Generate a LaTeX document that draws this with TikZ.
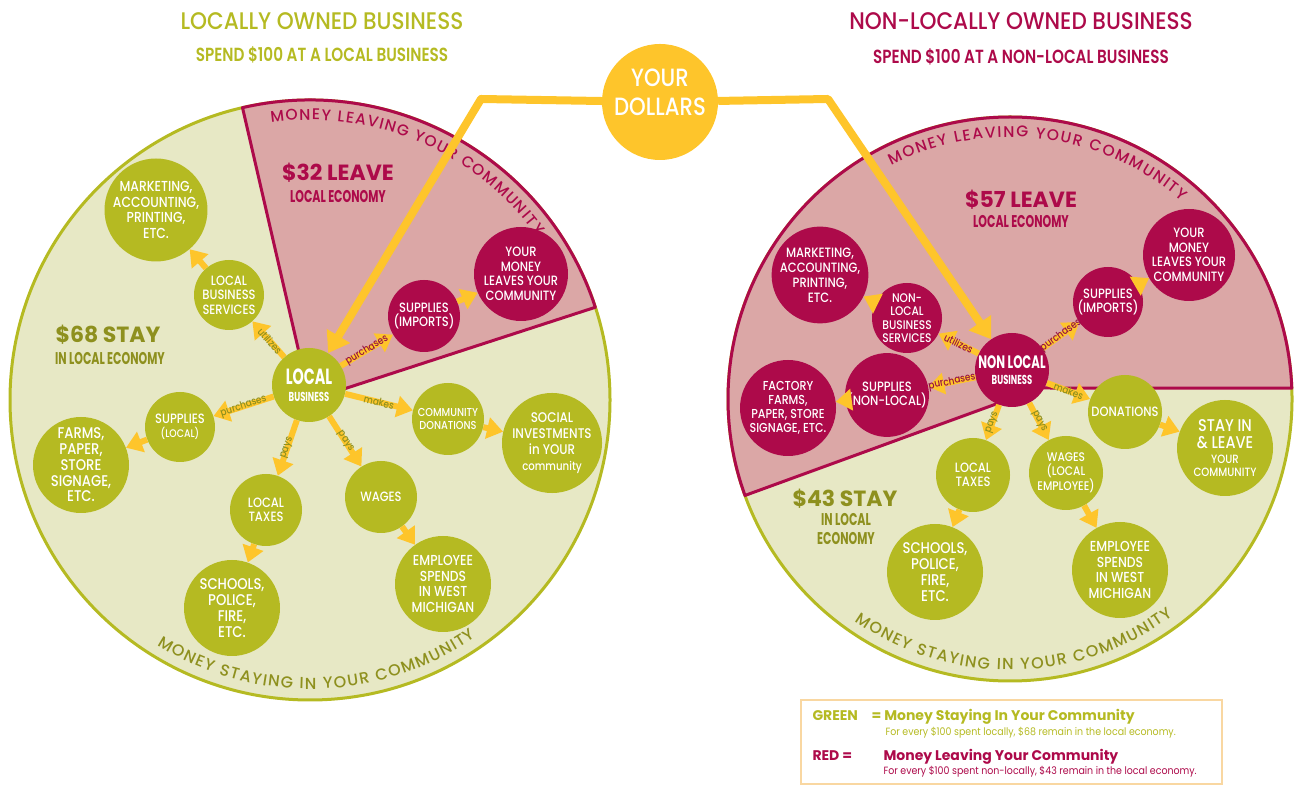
\documentclass[tikz,border=0pt]{standalone}
\usepackage{fontspec}
\setmainfont{Poppins}
\IfFontExistsTF{Poppins Medium}{%
  \newfontfamily\ballfont[FakeStretch=0.85]{Poppins Medium}%
  \newfontfamily\headfont[FakeStretch=0.9]{Poppins Medium}%
  \newfontfamily\rimfont{Poppins Medium}%
}{%
  \newfontfamily\ballfont[FakeStretch=0.85]{Poppins}%
  \newfontfamily\headfont[FakeStretch=0.9]{Poppins}%
  \newfontfamily\rimfont{Poppins}%
}
\IfFontExistsTF{Poppins SemiBold}{%
  \newfontfamily\subfont[FakeStretch=0.8]{Poppins SemiBold}%
}{%
  \newfontfamily\subfont[FakeStretch=0.8]{Poppins}%
}
\newfontfamily\narrowfont[FakeStretch=0.65]{Poppins}
\newfontfamily\notefont[FakeStretch=0.9]{Poppins}
\usetikzlibrary{arrows.meta,decorations.text,positioning}

\definecolor{leafgreen}{HTML}{B5BA22}
\definecolor{palegreen}{HTML}{E7E8C5}
\definecolor{mossgreen}{HTML}{8E901E}
\definecolor{berry}{HTML}{AD0A4A}
\definecolor{blush}{HTML}{DBA7A6}
\definecolor{wine}{HTML}{961043}
\definecolor{gold}{HTML}{FEC52B}
\definecolor{peach}{HTML}{F9D7A1}

\newcommand\txtnorm{\fontsize{13.5}{14.5}\selectfont}
\newcommand\txtbig{\fontsize{14.5}{15.5}\selectfont}
\newcommand\txtsmall{\fontsize{11}{12}\selectfont}

\tikzset{
  stayball/.style={circle, fill=leafgreen, text=white, inner sep=0pt, align=center,
    minimum size=70pt, font=\ballfont\txtnorm},
  leaveball/.style={stayball, fill=berry},
  bigball/.style={minimum size=96pt, font=\ballfont\txtbig},
  flow/.style={draw=gold, line width=6pt, -{Triangle[length=16pt,width=21pt]}},
  money/.style={draw=gold, line width=8pt, line join=round, -{Triangle[length=20pt,width=26pt]}},
  verb/.style={midway, sloped, inner sep=0pt, text=mossgreen, font=\ballfont\fontsize{10.5}{10.5}\selectfont},
  redverb/.style={verb, text=wine},
  sum/.style={anchor=base, font=\bfseries\fontsize{22}{22}\selectfont},
  eco/.style={anchor=base, font=\narrowfont\bfseries\fontsize{17}{17}\selectfont},
  keytext/.style={anchor=base west, font=\bfseries\fontsize{14}{14}\selectfont},
  notetext/.style={anchor=base west, font=\notefont\fontsize{10.5}{10.5}\selectfont},
}

\begin{document}
\begin{tikzpicture}[x=1pt,y=1pt]
\useasboundingbox (0,0) rectangle (1297,786);

% the two economies
\coordinate (lc) at (310,386);
\coordinate (rc) at (1010,387);
\coordinate (rsplit) at (1040,398);
\filldraw[fill=palegreen, draw=leafgreen, line width=3pt] (lc) circle[radius=300];
\filldraw[fill=blush, draw=berry, line width=3pt, line join=round]
  (lc) -- ([shift={(103:300)}]lc) arc[start angle=103, end angle=18, radius=300] -- cycle;
\filldraw[fill=palegreen, draw=leafgreen, line width=3pt] (rc) circle[radius=282];
\filldraw[fill=blush, draw=berry, line width=3pt, line join=round]
  (rsplit) -- ([shift={(2.2:282)}]rc) arc[start angle=2.2, end angle=200, radius=282] -- cycle;

% text round the rims
\path[decorate, decoration={text along path, text align=fit to path, text color=berry,
  text={|\rimfont\fontsize{15.5}{15.5}\selectfont|MONEY LEAVING YOUR COMMUNITY}}]
  ([shift={(98:280)}]lc) arc[start angle=98, end angle=36, radius=280];
\path[decorate, decoration={text along path, text align=fit to path, text color=mossgreen,
  text={|\rimfont\fontsize{16}{16}\selectfont|MONEY STAYING IN YOUR COMMUNITY}}]
  ([shift={(238:289)}]lc) arc[start angle=238, end angle=305, radius=289];
\path[decorate, decoration={text along path, text align=fit to path, text color=berry,
  text={|\rimfont\fontsize{15.5}{15.5}\selectfont|MONEY LEAVING YOUR COMMUNITY}}]
  ([shift={(117:262)}]rc) arc[start angle=117, end angle=49, radius=262];
\path[decorate, decoration={text along path, text align=fit to path, text color=mossgreen,
  text={|\rimfont\fontsize{16}{16}\selectfont|MONEY STAYING IN YOUR COMMUNITY}}]
  ([shift={(235:271)}]rc) arc[start angle=235, end angle=307, radius=271];

% headings
\node[anchor=base, text=leafgreen, font=\headfont\fontsize{24}{24}\selectfont] (ltitle) at (322,756) {LOCALLY OWNED BUSINESS};
\node[anchor=base, text=leafgreen, font=\subfont\fontsize{19}{19}\selectfont] (lsub) at (322,724) {SPEND \$100 AT A LOCAL BUSINESS};
\node[anchor=base, text=berry, font=\headfont\fontsize{24}{24}\selectfont] (rtitle) at (1021,756) {NON-LOCALLY OWNED BUSINESS};
\node[anchor=base, text=berry, font=\subfont\fontsize{19}{19}\selectfont] (rsub) at (1021,722) {SPEND \$100 AT A NON-LOCAL BUSINESS};

\node[sum, text=berry] (lleavesum) at (338,605) {\$32 LEAVE};
\node[eco, text=berry] (lleaveeco) at (338,583) {LOCAL ECONOMY};
\node[sum, text=mossgreen] (lstaysum) at (108,443) {\$68 STAY};
\node[eco, text=mossgreen] (lstayeco) at (110,421) {IN LOCAL ECONOMY};
\node[sum, text=berry] (rleavesum) at (1021,578) {\$57 LEAVE};
\node[eco, text=berry] (rleaveeco) at (1021,558) {LOCAL ECONOMY};
\node[sum, text=mossgreen] (rstaysum) at (845,279) {\$43 STAY};
\node[eco, text=mossgreen] (rstayeco) at (846,260) {IN LOCAL};
\node[eco, text=mossgreen] (rstayeco2) at (846,241) {ECONOMY};

% local business
\node[stayball, minimum size=74pt] (lbiz) at (309,401)
  {{\narrowfont\bfseries\fontsize{22}{22}\selectfont LOCAL}\\[3pt]{\narrowfont\bfseries\fontsize{13}{13}\selectfont BUSINESS}};
\node[stayball] (lserv) at (229,491) {LOCAL\\BUSINESS\\SERVICES};
\node[stayball, bigball] (lmkt) at (156,576) {MARKETING,\\ACCOUNTING,\\PRINTING,\\ETC.};
\node[leaveball, minimum size=72pt] (limp) at (424,470) {SUPPLIES\\(IMPORTS)};
\node[leaveball, minimum size=94pt] (lleave) at (521,512) {YOUR\\MONEY\\LEAVES YOUR\\COMMUNITY};
\node[stayball] (lsupp) at (180,359) {SUPPLIES\\{\txtsmall(LOCAL)}};
\node[stayball, bigball, font=\ballfont\fontsize{15.5}{15.7}\selectfont] (lfarms) at (81,321) {FARMS,\\PAPER,\\STORE\\SIGNAGE,\\ETC.};
\node[stayball, minimum size=72pt] (ltax) at (266,276) {LOCAL\\TAXES};
\node[stayball, bigball, font=\ballfont\fontsize{15.5}{16}\selectfont] (lschool) at (232,178) {SCHOOLS,\\POLICE,\\FIRE,\\ETC.};
\node[stayball, minimum size=72pt] (lwage) at (381,289) {WAGES};
\node[stayball, bigball] (lemp) at (443,202) {EMPLOYEE\\SPENDS\\IN WEST\\MICHIGAN};
\node[stayball, minimum size=72pt, font=\ballfont\fontsize{11.5}{12.5}\selectfont] (ldon) at (448,367) {COMMUNITY\\DONATIONS};
\node[stayball, bigball, font=\ballfont\fontsize{14}{16}\selectfont] (lsoc) at (552,343) {SOCIAL\\INVESTMENTS\\in YOUR\\{\fontsize{12}{12}\selectfont community}};

% non-local business
\node[leaveball, minimum size=74pt] (rbiz) at (1012,416)
  {{\narrowfont\bfseries\fontsize{18}{18}\selectfont NON LOCAL}\\[2pt]{\narrowfont\bfseries\fontsize{13}{13}\selectfont BUSINESS}};
\node[leaveball, font=\ballfont\fontsize{12.5}{13.5}\selectfont] (rserv) at (907,468) {NON-\\LOCAL\\BUSINESS\\SERVICES};
\node[leaveball, bigball, font=\ballfont\fontsize{13.5}{15}\selectfont] (rmkt) at (820,511) {MARKETING,\\ACCOUNTING,\\PRINTING,\\ETC.};
\node[leaveball] (rsupp) at (887,391) {SUPPLIES\\(NON-LOCAL)};
\node[leaveball, bigball, font=\ballfont\fontsize{13}{14}\selectfont] (rfactory) at (788,378) {FACTORY\\FARMS,\\PAPER, STORE\\SIGNAGE, ETC.};
\node[leaveball] (rimp) at (1108,484) {SUPPLIES\\(IMPORTS)};
\node[leaveball, minimum size=92pt] (rleave) at (1189,531) {YOUR\\MONEY\\LEAVES YOUR\\COMMUNITY};
\node[stayball, minimum size=74pt] (rdon) at (1125,374) {DONATIONS};
\node[stayball, bigball, font=\ballfont\fontsize{12}{13}\selectfont] (rstay) at (1225,338)
  {{\fontsize{17}{17}\selectfont STAY IN}\\[4pt]{\fontsize{17}{17}\selectfont \& LEAVE}\\[2pt]YOUR\\COMMUNITY};
\node[stayball, minimum size=74pt] (rtax) at (973,311) {LOCAL\\TAXES};
\node[stayball, minimum size=74pt, font=\ballfont\fontsize{12.5}{13.5}\selectfont] (rwage) at (1066,313) {WAGES\\(LOCAL\\EMPLOYEE)};
\node[stayball, bigball, font=\ballfont\fontsize{15.5}{16}\selectfont] (rschool) at (935,214) {SCHOOLS,\\POLICE,\\FIRE,\\ETC.};
\node[stayball, bigball] (remp) at (1120,216) {EMPLOYEE\\SPENDS\\IN WEST\\MICHIGAN};

% flows, local
\draw[flow] (lbiz) -- (lserv) node[verb, pos=0.45] {utilizes};
\draw[flow] (lserv) -- (lmkt);
\draw[flow] (lbiz) -- (limp) node[redverb] {purchases};
\draw[flow] (limp) -- (lleave);
\draw[flow] (lbiz) -- (lsupp) node[verb] {purchases};
\draw[flow] (lsupp) -- (lfarms);
\draw[flow] (lbiz) -- (ltax) node[verb] {pays};
\draw[flow] (ltax) -- (lschool);
\draw[flow] (lbiz) -- (lwage) node[verb] {pays};
\draw[flow] (lwage) -- (lemp);
\draw[flow] (lbiz) -- (ldon) node[verb] {makes};
\draw[flow] (ldon) -- (lsoc);

% flows, non-local
\draw[flow] (rbiz) -- (rserv) node[redverb] {utilizes};
\draw[flow] (rserv) -- (rmkt);
\draw[flow] (rbiz) -- (rsupp) node[redverb] {purchases};
\draw[flow] (rsupp) -- (rfactory);
\draw[flow] (rbiz) -- (rimp) node[redverb] {purchases};
\draw[flow] (rimp) -- (rleave);
\draw[flow] (rbiz) -- (rdon) node[verb] {makes};
\draw[flow] (rdon) -- (rstay);
\draw[flow] (rbiz) -- (rtax) node[verb] {pays};
\draw[flow] (rtax) -- (rschool);
\draw[flow] (rbiz) -- (rwage) node[verb] {pays};
\draw[flow] (rwage) -- (remp);

% your dollars
\node[circle, fill=gold, minimum size=116pt] (dollars) at (660,684) {};
\node[text=white, align=center, font=\ballfont\fontsize{25}{29}\selectfont] (dollarstext) at ([yshift=10pt]dollars.center) {YOUR\\DOLLARS};
\coordinate (lbend) at (481,687);
\coordinate (rbend) at (828,687);
\draw[money] (dollars) -- (lbend) -- (lbiz);
\draw[money] (dollars) -- (rbend) -- (rbiz);

% legend
\node[draw=peach, line width=1.5pt, minimum width=421pt, minimum height=84pt, inner sep=0pt] (legend) at (1011.5,44) {};
\node[keytext, text=leafgreen] (greenkey) at (809,65) {GREEN};
\node[keytext, text=leafgreen] (greenmeaning) at (868,65) {= Money Staying In Your Community};
\node[notetext, text=leafgreen] (greennote) at (882,50) {For every \$100 spent locally, \$68 remain in the local economy.};
\node[keytext, text=berry] (redkey) at (809,25) {RED =};
\node[keytext, text=berry] (redmeaning) at (880,25) {Money Leaving Your Community};
\node[notetext, text=berry] (rednote) at (880,11) {For every \$100 spent non-locally, \$43 remain in the local economy.};
\end{tikzpicture}
\end{document}
